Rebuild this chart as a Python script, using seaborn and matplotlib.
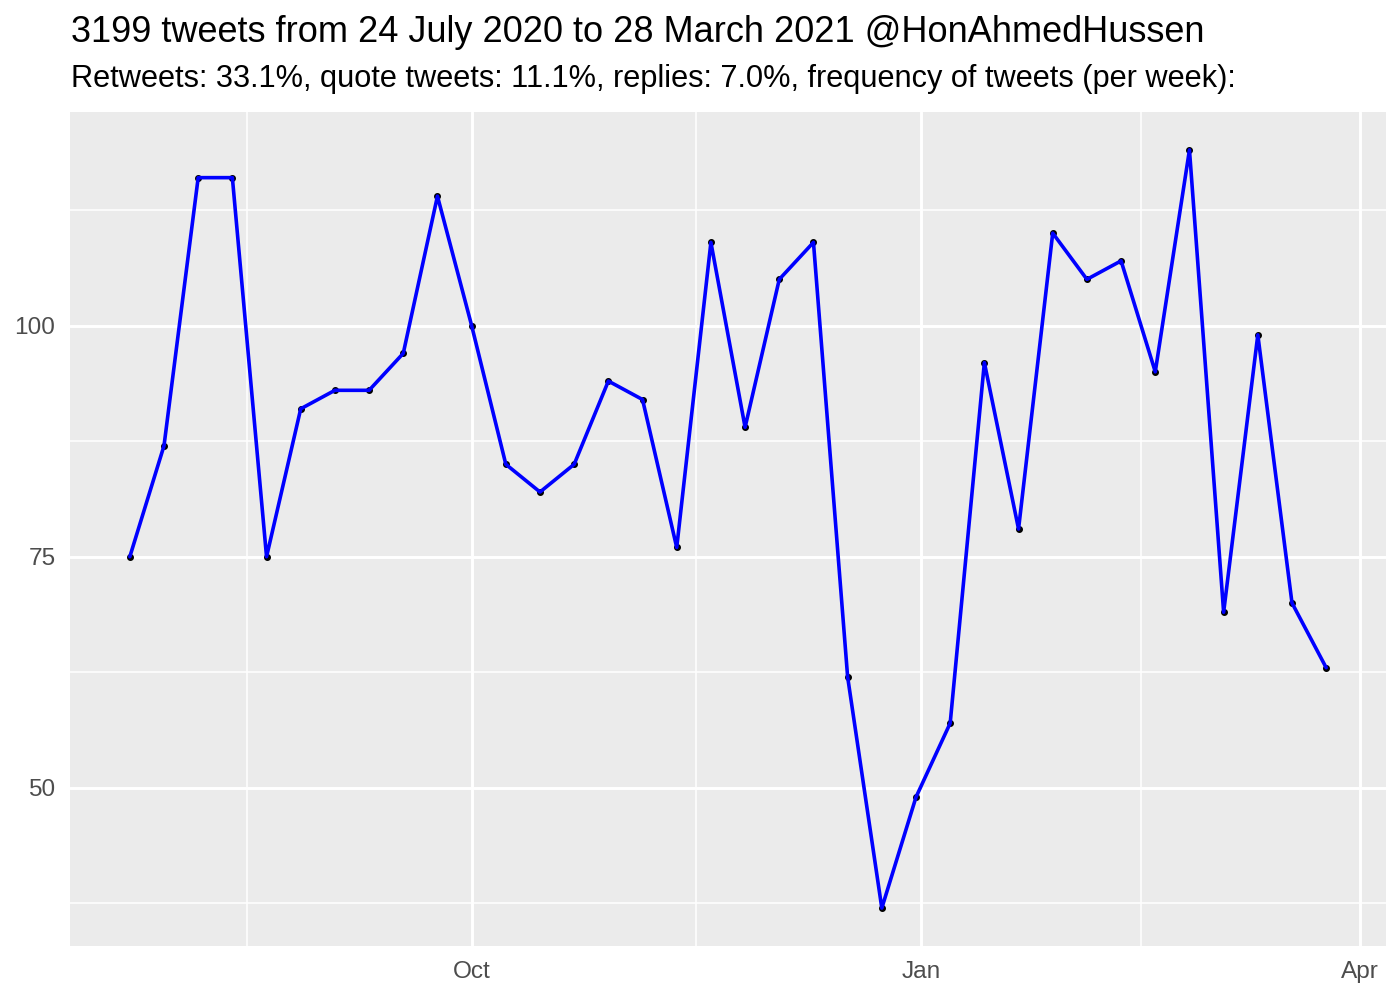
import numpy as np
import pandas as pd
import matplotlib
matplotlib.use("Agg")
import matplotlib.pyplot as plt
import matplotlib.dates as mdates
from matplotlib.ticker import FixedLocator, MultipleLocator
import seaborn as sns

# ---- data ----
week_start = "2020-07-23"
n_weeks = 36
tweets_per_week = [75, 87, 116, 116, 75, 91, 93, 93, 97, 114, 100, 85, 82, 85, 94, 92,
                   76, 109, 89, 105, 109, 62, 37, 49, 57, 96, 78, 110, 105, 107, 95, 119,
                   69, 99, 70, 63]
title = "3199 tweets from 24 July 2020 to 28 March 2021 @HonAhmedHussen"
subtitle = "Retweets: 33.1%, quote tweets: 11.1%, replies: 7.0%, frequency of tweets (per week):"
y_major = [50, 75, 100]

df = pd.DataFrame({
    "date": pd.date_range(week_start, periods=n_weeks, freq="7D"),
    "n": tweets_per_week,
})

sns.set_theme(style="darkgrid")
plt.rcParams["font.family"] = ["Liberation Sans", "DejaVu Sans"]

fig = plt.figure(figsize=(7, 5), dpi=200)
ax = fig.add_axes([70/1400, 1 - 946/1000, (1386-70)/1400, (946-112)/1000])
ax.set_facecolor("#EBEBEB")

sns.scatterplot(data=df, x="date", y="n", color="black", s=4, linewidth=0.5,
                edgecolor="black", ax=ax, zorder=3)
sns.lineplot(data=df, x="date", y="n", color="#0000FF", linewidth=1.3, ax=ax, zorder=4)

# limits with 5% expansion like ggplot
x0 = mdates.date2num(df["date"].min()); x1 = mdates.date2num(df["date"].max())
dx = (x1 - x0) * 0.05
ax.set_xlim(x0 - dx, x1 + dx)
y0, y1 = min(tweets_per_week), max(tweets_per_week)
dy = (y1 - y0) * 0.05
ax.set_ylim(y0 - dy, y1 + dy)

# x ticks: quarterly months
ax.xaxis.set_major_locator(mdates.MonthLocator(bymonth=[1, 4, 7, 10]))
ax.xaxis.set_major_formatter(mdates.DateFormatter("%b"))
qstarts = pd.date_range(df["date"].min() - pd.Timedelta(days=120),
                        df["date"].max() + pd.Timedelta(days=120), freq="QS")
maj = [mdates.date2num(d) for d in qstarts]
mids = [(a + b) / 2 for a, b in zip(maj[:-1], maj[1:])]
ax.xaxis.set_minor_locator(FixedLocator(mids))

ax.yaxis.set_major_locator(FixedLocator(y_major))
ax.yaxis.set_minor_locator(MultipleLocator(12.5))

ax.grid(which="major", color="white", linewidth=1.07)
ax.grid(which="minor", color="white", linewidth=0.55)
ax.set_axisbelow(True)

for s in ax.spines.values():
    s.set_visible(False)

ax.tick_params(axis="both", which="major", length=2.75, width=1.0, color="#333333",
               labelsize=8.8, labelcolor="#4D4D4D", pad=2.5)
ax.tick_params(axis="both", which="minor", length=0)
ax.set_xlabel("")
ax.set_ylabel("")

fig.text(71/1400, 1 - 32/1000, title, fontsize=13.0, color="black", ha="left", va="center")
fig.text(71/1400, 1 - 79/1000, subtitle, fontsize=11.08, color="black", ha="left", va="center")

fig.savefig("out.png", dpi=200, facecolor="white")
